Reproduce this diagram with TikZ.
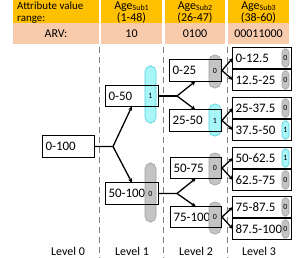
\documentclass[tikz,border=0pt]{standalone}
\usepackage{fontspec}
\setmainfont{Carlito}
\usetikzlibrary{arrows.meta,fit}
\definecolor{hdr}{HTML}{FFC000}
\definecolor{arvc}{HTML}{F8CBAD}
\definecolor{cyf}{HTML}{A8F6F8}
\definecolor{cyd}{HTML}{55D0DC}
\definecolor{gyf}{HTML}{C4C4C4}
\definecolor{gyd}{HTML}{A0A0A0}
\definecolor{dashc}{HTML}{7F7F7F}
\tikzset{
  boxfill/.style={fill=white, inner sep=0pt},
  boxline/.style={draw=black, line width=1.2bp},
  btxt/.style={font=\fontsize{13}{15}\selectfont, inner sep=0pt, anchor=west},
  htxt/.style={font=\fontsize{12}{14}\selectfont, inner sep=0pt, anchor=base},
  atxt/.style={font=\fontsize{11}{13}\selectfont, inner sep=0pt, anchor=base west},
  ptxt/.style={font=\fontsize{8}{9}\selectfont, inner sep=0pt},
  cypill/.style={fill=cyf, draw=cyd, line width=0.6bp, inner sep=0pt},
  gypill/.style={fill=gyf, draw=gyd, line width=0.6bp, inner sep=0pt},
  bigr/.style={rounded corners=5.5bp},
  smr/.style={rounded corners=3.5bp},
  conn/.style={draw=black, line width=1.3bp},
  arr/.style={draw=black, line width=1.3bp, -{Stealth[length=4.5bp,width=4bp]}},
  dashln/.style={draw=dashc, line width=1bp, dash pattern=on 6bp off 4bp},
}
\newcommand\mkbox[6]{%
  \node[boxfill, fit={(#2,#3) (#4,#5)}] (#1) {};
  \node[btxt] (#1t) at ([xshift=2.5bp]#1.west) {#6};}
\newcommand\mkline[1]{\draw[boxline] (#1.north west) rectangle (#1.south east);}
\begin{document}
\begin{tikzpicture}[x=1bp,y=-1bp]
\useasboundingbox (0,0) rectangle (305,258);
% header
\fill[hdr] (13,0) rectangle (99,23);
\fill[hdr] (101,0) rectangle (162,23);
\fill[hdr] (165,0) rectangle (225,23);
\fill[hdr] (228,0) rectangle (289,23);
\fill[arvc] (13,23) rectangle (99,44);
\fill[arvc] (101,23) rectangle (162,44);
\fill[arvc] (165,23) rectangle (225,44);
\fill[arvc] (228,23) rectangle (289,44);
\node[atxt] (h1a) at (17,9.5) {Attribute value};
\node[atxt] (h1b) at (17,21) {range:};
\node[htxt] (h2a) at (131.5,9) {Age\raisebox{-1bp}{\fontsize{8}{9}\selectfont Sub1}};
\node[htxt] (h2b) at (131.5,21.5) {(1-48)};
\node[htxt] (h3a) at (195,9) {Age\raisebox{-1bp}{\fontsize{8}{9}\selectfont Sub2}};
\node[htxt] (h3b) at (195,21.5) {(26-47)};
\node[htxt] (h4a) at (258.5,9) {Age\raisebox{-1bp}{\fontsize{8}{9}\selectfont Sub3}};
\node[htxt] (h4b) at (258.5,21.5) {(38-60)};
\node[htxt] (r1) at (56,37) {ARV:};
\node[htxt] (r2) at (131.5,37) {10};
\node[htxt] (r3) at (195,37) {0100};
\node[htxt] (r4) at (258.5,37) {00011000};
% dashed separators
\coordinate (d1a) at (99,47); \coordinate (d1b) at (99,258);
\coordinate (d2a) at (163,47); \coordinate (d2b) at (163,258);
\coordinate (d3a) at (227,47); \coordinate (d3b) at (227,258);
\draw[dashln] (d1a) -- (d1b);
\draw[dashln] (d2a) -- (d2b);
\draw[dashln] (d3a) -- (d3b);
% level labels
\node[htxt] (lv0) at (68,255) {Level 0};
\node[htxt] (lv1) at (132,255) {Level 1};
\node[htxt] (lv2) at (196,255) {Level 2};
\node[htxt] (lv3) at (259,255) {Level 3};
% boxes
\mkbox{a}{43}{136}{94}{157}{0-100}
\mkbox{b1}{106}{86}{158}{106}{0-50}
\mkbox{b2}{106}{183}{158}{204}{50-100}
\mkbox{c1}{170}{60}{221}{81}{0-25}
\mkbox{c2}{170}{110}{221}{131}{25-50}
\mkbox{c3}{171}{158}{221}{178}{50-75}
\mkbox{c4}{171}{207}{221}{227}{75-100}
\mkbox{e1}{233}{48}{291}{68}{0-12.5}
\mkbox{e2}{233}{70}{291}{90}{12.5-25}
\mkbox{e3}{233}{98}{291}{118}{25-37.5}
\mkbox{e4}{233}{120}{291}{140}{37.5-50}
\mkbox{e5}{233}{148}{291}{168}{50-62.5}
\mkbox{e6}{233}{170}{291}{190}{62.5-75}
\mkbox{e7}{233}{197}{291}{217}{75-87.5}
\mkbox{e8}{233}{219}{291}{239}{87.5-100}
% pills
\node[cypill,bigr, fit={(145,66) (156,123)}] (pb1) {};
\node[gypill,bigr, fit={(145,163) (156,222)}] (pb2) {};
\node[gypill,bigr, fit={(209,55) (221,88)}] (pc1) {};
\node[cypill,bigr, fit={(209,104) (221,136)}] (pc2) {};
\node[gypill,bigr, fit={(209,153) (221,185)}] (pc3) {};
\node[gypill,bigr, fit={(209,202) (221,234)}] (pc4) {};
\node[gypill,smr, fit={(282,49) (289,67)}] (pe1) {};
\node[gypill,smr, fit={(282,71) (289,89)}] (pe2) {};
\node[gypill,smr, fit={(282,99) (289,117)}] (pe3) {};
\node[cypill,smr, fit={(282,121) (289,139)}] (pe4) {};
\node[cypill,smr, fit={(282,149) (289,167)}] (pe5) {};
\node[gypill,smr, fit={(282,171) (289,189)}] (pe6) {};
\node[gypill,smr, fit={(282,198) (289,216)}] (pe7) {};
\node[gypill,smr, fit={(282,220) (289,238)}] (pe8) {};
% box borders
\mkline{a}\mkline{b1}\mkline{b2}
\mkline{c1}\mkline{c2}\mkline{c3}\mkline{c4}
\mkline{e1}\mkline{e2}\mkline{e3}\mkline{e4}\mkline{e5}\mkline{e6}\mkline{e7}\mkline{e8}
% pill labels
\node[ptxt] (pb1t) at (pb1.center |- b1.center) {1};
\node[ptxt] (pb2t) at (pb2.center |- b2.center) {0};
\node[ptxt] (pc1t) at (pc1.center |- c1.center) {0};
\node[ptxt] (pc2t) at (pc2.center |- c2.center) {1};
\node[ptxt] (pc3t) at (pc3.center |- c3.center) {0};
\node[ptxt] (pc4t) at (pc4.center |- c4.center) {0};
\node[ptxt] (pe1t) at (pe1.center) {0};
\node[ptxt] (pe2t) at (pe2.center) {0};
\node[ptxt] (pe3t) at (pe3.center) {0};
\node[ptxt] (pe4t) at (pe4.center) {1};
\node[ptxt] (pe5t) at (pe5.center) {1};
\node[ptxt] (pe6t) at (pe6.center) {0};
\node[ptxt] (pe7t) at (pe7.center) {0};
\node[ptxt] (pe8t) at (pe8.center) {0};
% connectors
\coordinate (j0) at (113,146.5);
\draw[conn] (a.east) -- (j0);
\draw[arr] (j0) -- (b1.south);
\draw[arr] (j0) -- (b2.north);
\coordinate (j1) at (177,96);
\draw[conn] (b1.east) -- (j1);
\draw[arr] (j1) -- (c1.south);
\draw[arr] (j1) -- (c2.north);
\coordinate (j2) at (177,193.5);
\draw[conn] (b2.east) -- (j2);
\draw[arr] (j2) -- (c3.south);
\draw[arr] (j2) -- (c4.north);
\coordinate (k1) at (222,70.5);
\coordinate (k2) at (222,120.5);
\coordinate (k3) at (222,168);
\coordinate (k4) at (222,217);
\draw[arr] (k1) -- (e1.west);
\draw[arr] (k1) -- (e2.west);
\draw[arr] (k2) -- (e3.west);
\draw[arr] (k2) -- (e4.west);
\draw[arr] (k3) -- (e5.west);
\draw[arr] (k3) -- (e6.west);
\draw[arr] (k4) -- (e7.west);
\draw[arr] (k4) -- (e8.west);
\end{tikzpicture}
\end{document}
